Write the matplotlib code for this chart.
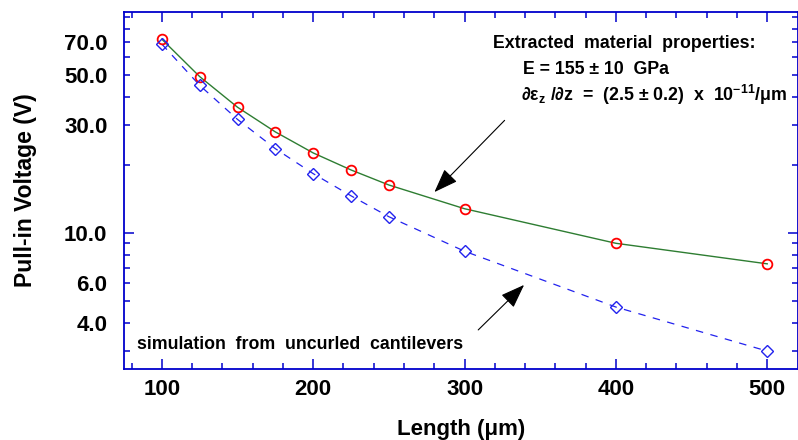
#!/usr/bin/env python3

import matplotlib
matplotlib.use("Agg")
import matplotlib.pyplot as plt
from matplotlib.ticker import FixedLocator, FuncFormatter, NullFormatter

# cantilever lengths (um)
length = [100, 125, 150, 175, 200, 225, 250, 300, 400, 500]
# measured pull-in voltage (red circles) and fit line
measured = [72.0, 49.2, 36.0, 28.0, 22.6, 19.0, 16.3, 12.8, 9.0, 7.3]
# simulation from uncurled cantilevers (blue diamonds)
simulated = [68.5, 45.0, 31.8, 23.6, 18.3, 14.6, 11.8, 8.3, 4.7, 3.0]

y_labeled = [4, 6, 30, 50, 70]
y_minor = [3, 4, 5, 6, 7, 8, 9, 20, 30, 40, 50, 60, 70, 80, 90]

axis_blue = "#0000cc"

plt.rcParams["font.family"] = ["Liberation Sans", "DejaVu Sans"]
plt.rcParams["font.weight"] = "bold"
plt.rcParams["mathtext.fontset"] = "custom"
plt.rcParams["mathtext.bf"] = "Liberation Sans:bold"
plt.rcParams["mathtext.rm"] = "Liberation Sans:bold"

fig = plt.figure(figsize=(7.98, 4.40), dpi=100)
ax = fig.add_axes([124 / 798, 1 - 369 / 440, 673.5 / 798, 357 / 440])

ax.plot(length, measured, "-", color="#2e7d32", lw=1.0, zorder=2)
ax.plot(length, measured, "o", mfc="none", mec="red", ms=7, mew=1.3, zorder=3)
ax.plot(length, simulated, "--", color="#2222ee", lw=0.9, dashes=(6, 6), zorder=2)
ax.plot(length, simulated, "D", mfc="none", mec="#2222ee", ms=6, mew=1.0, zorder=3)

ax.set_yscale("log")
ax.set_xlim(75, 520)
ax.set_ylim(2.5, 95)

ax.xaxis.set_major_locator(FixedLocator([100, 200, 300, 400, 500]))
ax.xaxis.set_minor_locator(FixedLocator(range(80, 520, 20)))
ax.yaxis.set_major_locator(FixedLocator([10]))
ax.yaxis.set_minor_locator(FixedLocator(y_minor))
ax.yaxis.set_major_formatter(FuncFormatter(lambda v, p: f"{v:.1f}"))
ax.yaxis.set_minor_formatter(
    FuncFormatter(lambda v, p: f"{v:.1f}" if round(v) in y_labeled else ""))
ax.xaxis.set_minor_formatter(NullFormatter())

for s in ax.spines.values():
    s.set_color(axis_blue)
    s.set_linewidth(1.3)
ax.tick_params(which="both", direction="in", top=True, right=True,
               color=axis_blue, labelsize=16, width=1.1)
ax.tick_params(which="major", length=7)
ax.tick_params(which="minor", length=4.5)
ax.tick_params(axis="y", which="both", pad=12)
ax.tick_params(axis="x", which="both", pad=7)
for lab in ax.get_xticklabels() + ax.get_yticklabels(which="both"):
    lab.set_fontweight("bold")

ax.set_xlabel("Length (μm)", fontsize=16, fontweight="bold", labelpad=14)
ax.set_ylabel("Pull-in Voltage (V)", fontsize=16.5, fontweight="bold", labelpad=19)

ax.text(0.548, 0.912, "Extracted  material  properties:", transform=ax.transAxes,
        fontsize=12.8, fontweight="bold", ha="left", va="center")
ax.text(0.592, 0.838, "E = 155 ± 10  GPa", transform=ax.transAxes,
        fontsize=12.8, fontweight="bold", ha="left", va="center")
ax.text(0.589, 0.768,
        r"∂ε$_\mathbf{z}$ /∂z  =  (2.5 ± 0.2)  x  10$^{\mathbf{-11}}$/μm",
        transform=ax.transAxes, fontsize=12.8, fontweight="bold",
        ha="left", va="center")
ax.text(0.02, 0.07, "simulation  from  uncurled  cantilevers", transform=ax.transAxes,
        fontsize=12.8, fontweight="bold", ha="left", va="center")

ax.annotate("", xy=(0.458, 0.49), xytext=(0.568, 0.702), xycoords="axes fraction",
            arrowprops=dict(arrowstyle="-|>,head_length=1.5,head_width=0.55",
                        color="black", lw=0.8))
ax.annotate("", xy=(0.597, 0.241), xytext=(0.523, 0.104), xycoords="axes fraction",
            arrowprops=dict(arrowstyle="-|>,head_length=1.5,head_width=0.55",
                        color="black", lw=0.8))

fig.savefig("out.png", dpi=100)
